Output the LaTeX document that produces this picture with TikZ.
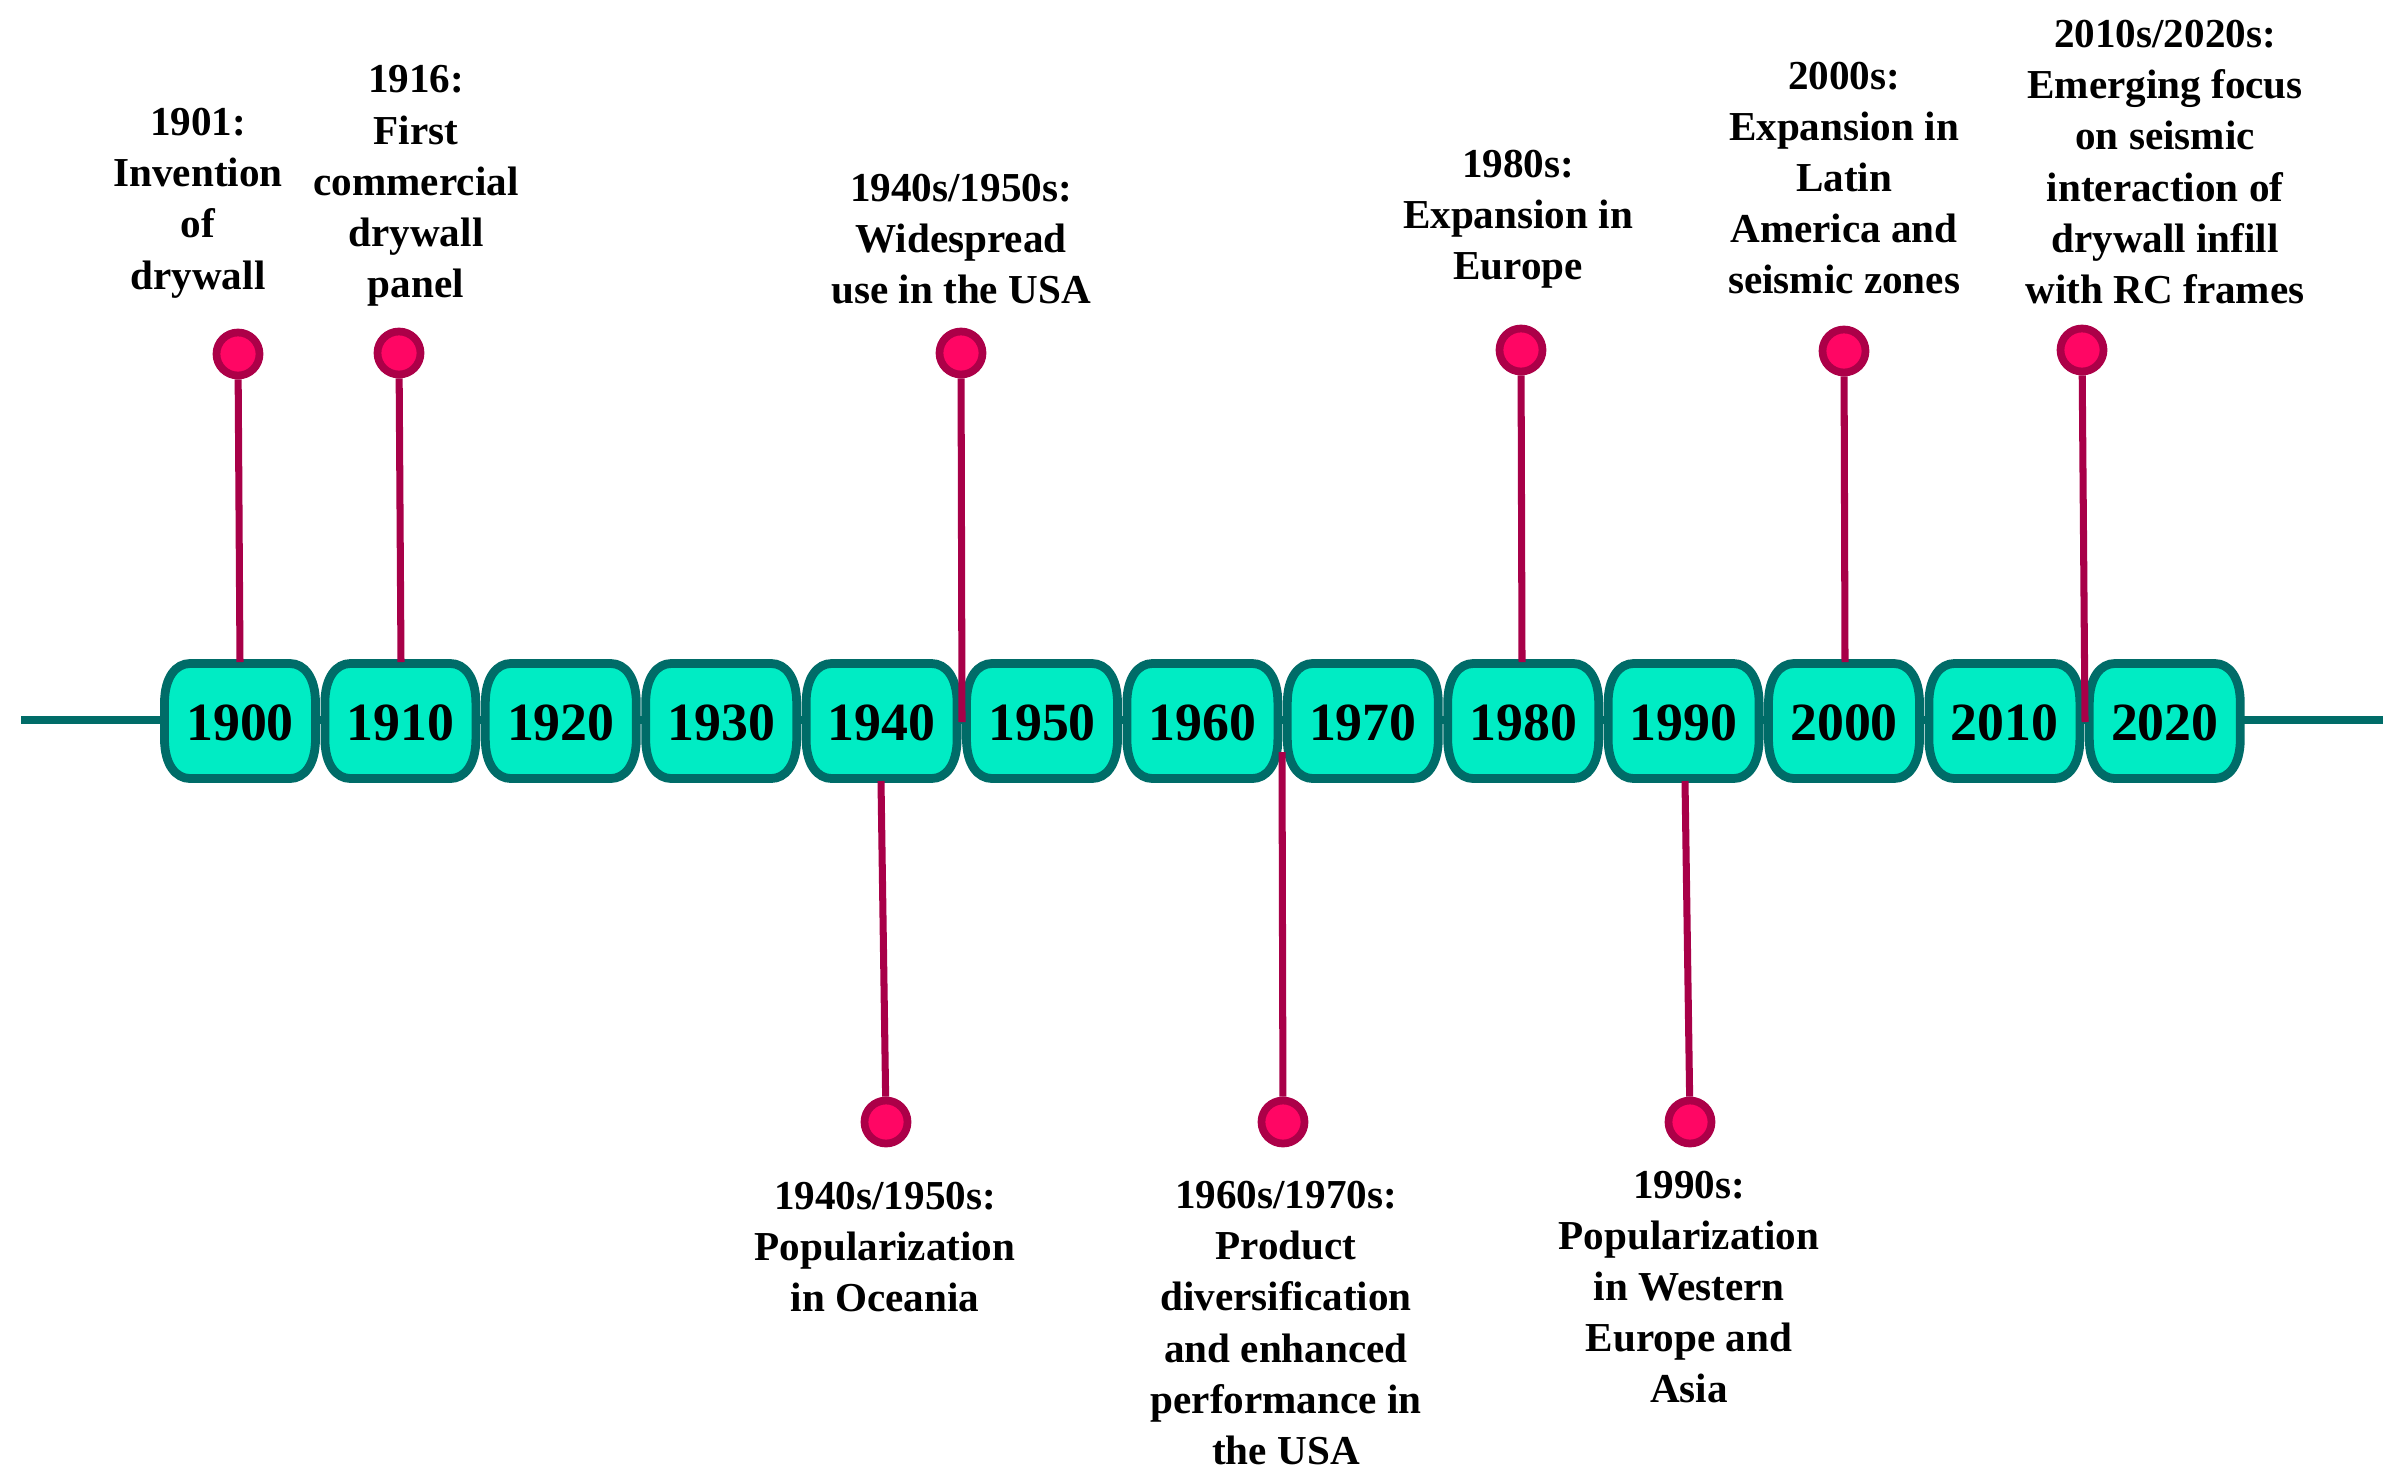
\documentclass[tikz,border=0pt]{standalone}
\usepackage{fontspec}
\setmainfont{Liberation Serif}
\usetikzlibrary{calc}
\definecolor{boxfill}{RGB}{0,236,196}
\definecolor{boxedge}{RGB}{0,108,104}
\definecolor{stemcol}{RGB}{168,0,72}
\definecolor{dotfill}{RGB}{255,6,100}
\definecolor{dotedge}{RGB}{172,0,72}
\tikzset{
  boxline/.style={draw=boxedge,fill=boxfill,line width=2.5pt},
  tline/.style={draw=boxedge,line width=2.27pt},
  yeartxt/.style={inner sep=0pt,font=\fontsize{15.3}{18}\selectfont\bfseries},
  dotc/.style={circle,draw=dotedge,fill=dotfill,line width=2.2pt,minimum size=0.43cm,inner sep=0pt},
  stemline/.style={draw=stemcol,line width=2pt},
  lbl/.style={align=center,inner sep=0pt,font=\fontsize{11.7}{14.55}\selectfont\bfseries},
  barrel/.pic={
    \draw[boxline] (-50,-57.5) -- (50,-57.5) .. controls (64,-57.5) and (75.5,-44) .. (75.5,-18)
      -- (75.5,18) .. controls (75.5,44) and (64,57.5) .. (50,57.5)
      -- (-50,57.5) .. controls (-64,57.5) and (-75.5,44) .. (-75.5,18)
      -- (-75.5,-18) .. controls (-75.5,-44) and (-64,-57.5) .. (-50,-57.5) -- cycle;
  }
}
\begin{document}
\begin{tikzpicture}[x=0.01cm,y=-0.01cm]
\useasboundingbox (0,0) rectangle (2406,1481);
% timeline axis
\coordinate (axL) at (21,720);
\coordinate (axR) at (2383,720);
\draw[tline] (axL) -- (axR);
% year boxes
\foreach \i/\yr in {0/1900,1/1910,2/1920,3/1930,4/1940,5/1950,6/1960,7/1970,8/1980,9/1990,10/2000,11/2010,12/2020}{
  \pic at ({240+\i*160.4},721) {barrel};
  \node[yeartxt] (y\yr) at ({240+\i*160.4},723) {\yr};
}
% top dots
\node[dotc] (t1) at (238,354) {};
\node[dotc] (t2) at (399,353) {};
\node[dotc] (t3) at (961,353) {};
\node[dotc] (t4) at (1521,350) {};
\node[dotc] (t5) at (1844,351) {};
\node[dotc] (t6) at (2082,350) {};
% bottom dots
\node[dotc] (b1) at (886,1122) {};
\node[dotc] (b2) at (1283,1122) {};
\node[dotc] (b3) at (1690,1122) {};
% stem ends
\coordinate (e1) at (240,662);
\coordinate (e2) at (401,662);
\coordinate (e3) at (962,722);
\coordinate (e4) at (1522,662);
\coordinate (e5) at (1845,662);
\coordinate (e6) at (2085,722);
\coordinate (f1) at (881,781);
\coordinate (f2) at (1282,752);
\coordinate (f3) at (1685,781);
\draw[stemline] (t1) -- (e1);
\draw[stemline] (t2) -- (e2);
\draw[stemline] (t3) -- (e3);
\draw[stemline] (t4) -- (e4);
\draw[stemline] (t5) -- (e5);
\draw[stemline] (t6) -- (e6);
\draw[stemline] (b1) -- (f1);
\draw[stemline] (b2) -- (f2);
\draw[stemline] (b3) -- (f3);
% labels
\node[lbl] (l1) at (198,203) {1901:\\Invention\\of\\drywall};
\node[lbl] (l2) at (416,186) {1916:\\First\\commercial\\drywall\\panel};
\node[lbl] (l3) at (961,239) {1940s/1950s:\\Widespread\\use in the USA};
\node[lbl] (l4) at (1518,219) {1980s:\\Expansion in\\Europe};
\node[lbl] (l5) at (1844,178) {2000s:\\Expansion in\\Latin\\America and\\seismic zones};
\node[lbl] (l6) at (2165,162) {2010s/2020s:\\Emerging focus\\on seismic\\interaction of\\drywall infill\\with RC frames};
\node[lbl] (l7) at (885,1247) {1940s/1950s:\\Popularization\\in Oceania};
\node[lbl] (l8) at (1286,1323) {1960s/1970s:\\Product\\diversification\\and enhanced\\performance in\\the USA};
\node[lbl] (l9) at (1689,1287) {1990s:\\Popularization\\in Western\\Europe and\\Asia};
\end{tikzpicture}
\end{document}
